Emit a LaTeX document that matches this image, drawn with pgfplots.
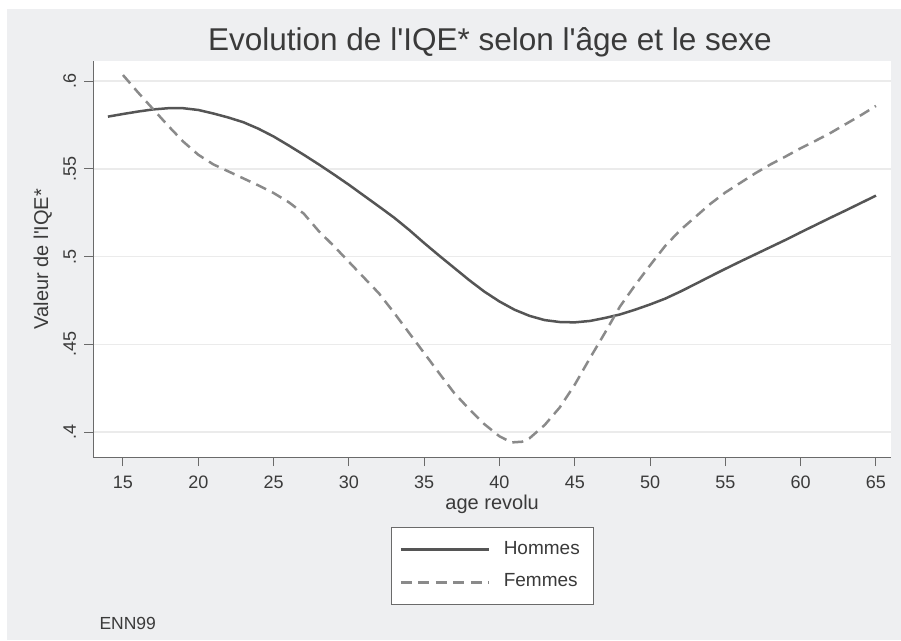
\documentclass[border=0pt]{standalone}
\usepackage{pgfplots}
\pgfplotsset{compat=1.18}
\usepackage{fontspec}
\setmainfont{Liberation Sans}[Ligatures=TeXOff]
\definecolor{bggray}{HTML}{EEEFF1}
\definecolor{txt}{HTML}{3A3A3A}
\definecolor{hom}{HTML}{555555}
\definecolor{fem}{HTML}{8A8A8A}
\definecolor{gridc}{HTML}{EBEBEB}
\definecolor{axc}{HTML}{6A6A6A}
\begin{document}
\begin{tikzpicture}[x=1pt,y=1pt]
\path[use as bounding box] (0,0) rectangle (901,640);
\fill[white] (0,0) rectangle (901,640);
\fill[bggray] (7,0) rectangle (901,631);
\begin{axis}[
  at={(93.3pt,183pt)}, anchor=south west,
  scale only axis, width=797.7pt, height=396pt,
  xmin=13.03, xmax=66, ymin=0.3858, ymax=0.6114,
  axis x line*=bottom, axis y line*=left,
  axis line style={axc, line width=1pt, -},
  axis background/.style={fill=white},
  xtick={15,20,...,65},
  ytick={0.4,0.45,0.5,0.55,0.6},
  yticklabels={.4,.45,.5,.55,.6},
  tick align=outside, major tick length=9pt,
  tick style={axc, line width=1pt},
  ymajorgrids, grid style={gridc, line width=1.5pt},
  /pgf/number format/assume math mode=true,
  ticklabel style={font=\fontsize{18}{18}\selectfont, text=txt},
  xticklabel style={anchor=north, text height=13pt, text depth=0pt},
  yticklabel style={rotate=90, anchor=south, text height=13pt, text depth=0pt},
  xticklabel shift=6pt, yticklabel shift=5pt,
  xlabel={age revolu}, ylabel={Valeur de l'IQE*},
  xlabel shift=0pt, ylabel shift=4pt,
  label style={font=\fontsize{20}{20}\selectfont, text=txt},
  legend style={at={(0.5,-0.1768)}, anchor=north, draw=axc, line width=1pt,
    fill=white, font=\fontsize{19}{19}\selectfont, text=txt,
    inner xsep=8.4pt, inner ysep=13.5pt, row sep=15.8pt, column sep=13.7pt,
    nodes={inner sep=0pt, text height=13pt, text depth=4pt, text width=81pt, align=left},
    legend cell align=left},
  legend image code/.code={\draw[#1] (0pt,0pt) -- (88pt,0pt);},
  clip=false,
]
\addplot[hom, line width=2.5pt, line join=round] coordinates {
(14,0.5797)(15,0.5812)(16,0.5826)(17,0.5838)(18,0.5845)(19,0.5845)(20,0.5835)
(21,0.5815)(22,0.5792)(23,0.5765)(24,0.5728)(25,0.5684)(26,0.5633)(27,0.5580)
(28,0.5525)(29,0.5468)(30,0.5409)(31,0.5347)(32,0.5285)(33,0.5222)(34,0.5152)
(35,0.5077)(36,0.5005)(37,0.4935)(38,0.4865)(39,0.4800)(40,0.4744)(41,0.4697)
(42,0.4662)(43,0.4638)(44,0.4627)(45,0.4625)(46,0.4633)(47,0.4650)(48,0.4670)
(49,0.4697)(50,0.4727)(51,0.4760)(52,0.4800)(53,0.4843)(54,0.4887)(55,0.4930)
(56,0.4972)(57,0.5013)(58,0.5054)(59,0.5095)(60,0.5138)(61,0.5180)(62,0.5222)
(63,0.5263)(64,0.5305)(65,0.5347)};
\addlegendentry{Hommes}
\addplot[fem, line width=2.5pt, dash pattern=on 11pt off 6.5pt] coordinates {
(15,0.6034)(16,0.5935)(17,0.5840)(18,0.5745)(19,0.5655)(20,0.5580)(21,0.5525)
(22,0.5485)(23,0.5445)(24,0.5405)(25,0.5362)(26,0.5310)(27,0.5245)(28,0.5145)
(29,0.5060)(30,0.4970)(31,0.4880)(32,0.4790)(33,0.4680)(34,0.4565)(35,0.4450)
(36,0.4335)(37,0.4222)(38,0.4130)(39,0.4045)(40,0.3976)(40.8,0.3941)(41.5,0.3945)
(42,0.3965)(43,0.4040)(44,0.4140)(45,0.4270)(46,0.4420)(47,0.4565)(48,0.4715)
(49,0.4836)(50,0.4950)(51,0.5060)(52,0.5150)(53,0.5225)(54,0.5300)(55,0.5365)
(56,0.5420)(57,0.5475)(58,0.5525)(59,0.5570)(60,0.5617)(61,0.5660)(62,0.5705)
(63,0.5755)(64,0.5805)(65,0.5858)};
\addlegendentry{Femmes}
\end{axis}
\node[text=txt, font=\fontsize{31.5}{31.5}\selectfont] at (490,598) {Evolution de l'IQE* selon l'âge et le sexe};
\node[text=txt, font=\fontsize{17.5}{17.5}\selectfont, anchor=west] at (96,17) {ENN99};
\end{tikzpicture}
\end{document}
